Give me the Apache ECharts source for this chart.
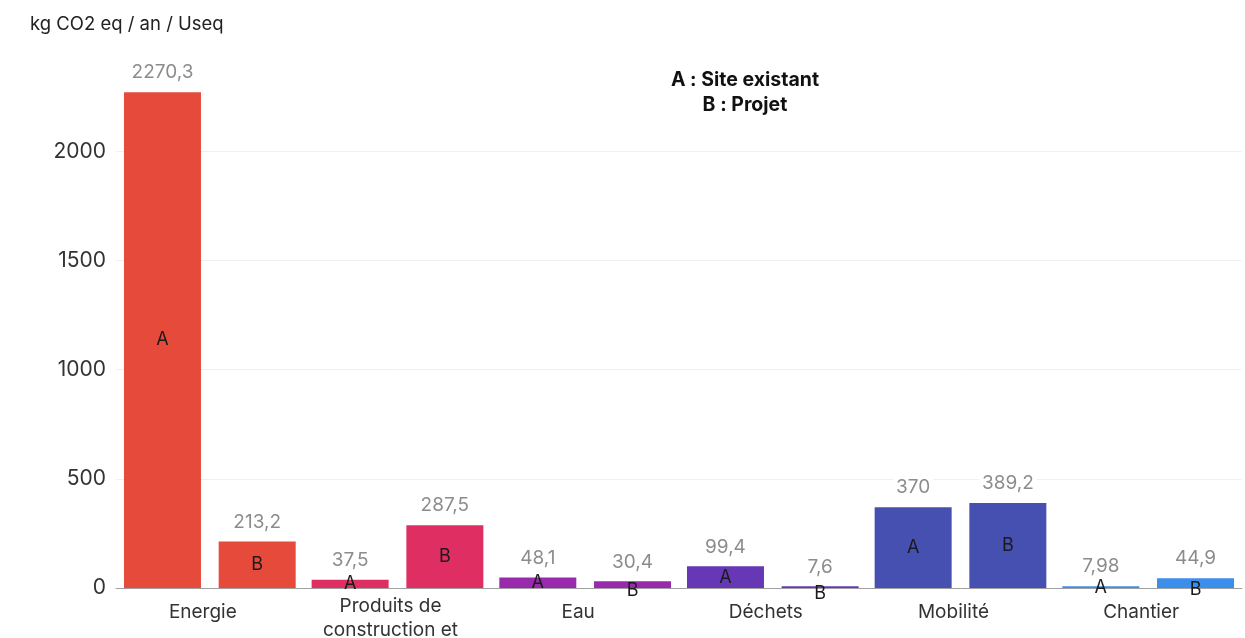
<!DOCTYPE html>
<html>
<head>
<meta charset="utf-8">
<script src="https://cdn.jsdelivr.net/npm/echarts@6/dist/echarts.min.js"></script>
<style>
html,body{margin:0;padding:0;background:#fff;}
#chart{width:1245px;height:638px;}
</style>
</head>
<body>
<div id="chart"></div>
<script>
const categories = ['Energie', 'Produits de\nconstruction et', 'Eau', 'Déchets', 'Mobilité', 'Chantier'];
const valuesA = [2270.3, 37.5, 48.1, 99.4, 370, 7.98];
const valuesB = [213.2, 287.5, 30.4, 7.6, 389.2, 44.9];
const yTicks = [0, 500, 1000, 1500, 2000];
const palette = ['#E64A3B', '#DF2F62', '#9A2AAD', '#6738B5', '#4650B0', '#3B8FEA'];

const FONT = 'Inter, "Noto Sans", sans-serif';
const fmt = v => String(v).replace('.', ',');

const chart = echarts.init(document.getElementById('chart'), null, {renderer: 'canvas', width: 1245, height: 638});

const barCommon = {
  type: 'bar',
  barWidth: 77,
  barGap: '23%',
  barCategoryGap: 0
};

function letterSeries(name, values, letter, xi) {
  return Object.assign({}, barCommon, {
    name: name,
    xAxisIndex: xi,
    data: values.map(v => ({
      value: v,
      label: (letter === 'B' && v < 100) ? {offset: [0, 6]} : undefined
    })),
    itemStyle: {
      color: p => palette[p.dataIndex]
    },
    label: {
      show: true,
      position: 'inside',
      formatter: letter,
      color: '#1a1a1a',
      fontFamily: FONT,
      fontSize: 18
    },
    z: 2
  });
}

function valueSeries(name, values, xi) {
  return Object.assign({}, barCommon, {
    name: name,
    xAxisIndex: xi,
    silent: true,
    data: values,
    itemStyle: {color: 'rgba(0,0,0,0)'},
    label: {
      show: true,
      position: 'top',
      distance: 9,
      formatter: p => fmt(p.value),
      color: '#8c8c8c',
      fontFamily: FONT,
      fontSize: 19,
      backgroundColor: '#ffffff',
      padding: [1, 3]
    },
    z: 3
  });
}

const categoryItems = categories.map(c => c.indexOf('\n') >= 0
  ? {value: c, textStyle: {padding: [-6, 14, 0, 0]}}
  : c);

const option = {
  animation: false,
  backgroundColor: '#ffffff',
  title: [
    {
      text: 'kg CO2 eq / an / Useq',
      left: 25,
      top: 10,
      textStyle: {fontFamily: FONT, fontSize: 18.5, fontWeight: 'normal', color: '#222'}
    },
    {
      text: 'A : Site existant\nB : Projet',
      left: 740,
      top: 63,
      textAlign: 'center',
      textStyle: {fontFamily: FONT, fontSize: 19.5, fontWeight: 'bold', color: '#111', lineHeight: 25, align: 'center'}
    }
  ],
  grid: {left: 116, right: 3, top: 42, bottom: 50, containLabel: false, outerBoundsMode: 'none'},
  xAxis: [
    {
      type: 'category',
      data: categoryItems,
      axisLine: {lineStyle: {color: '#a0a0a0', width: 1}},
      axisTick: {show: false},
      axisLabel: {
        interval: 0,
        color: '#333',
        fontFamily: FONT,
        fontSize: 19,
        lineHeight: 24,
        margin: 12,
        padding: [0, 14, 0, 0]
      },
      splitLine: {show: false}
    },
    {
      type: 'category',
      data: categories,
      show: false,
      position: 'bottom'
    }
  ],
  yAxis: {
    type: 'value',
    min: yTicks[0],
    max: 2500,
    interval: 500,
    axisLine: {show: false},
    axisTick: {show: false},
    axisLabel: {
      color: '#333',
      fontFamily: FONT,
      fontSize: 21,
      margin: 10,
      showMaxLabel: false,
      formatter: v => String(v)
    },
    splitLine: {lineStyle: {color: '#f0f0f0', width: 1}, showMaxLine: false}
  },
  series: [
    letterSeries('A', valuesA, 'A', 0),
    letterSeries('B', valuesB, 'B', 0),
    valueSeries('A val', valuesA, 1),
    valueSeries('B val', valuesB, 1)
  ]
};

chart.setOption(option);
</script>
</body>
</html>
